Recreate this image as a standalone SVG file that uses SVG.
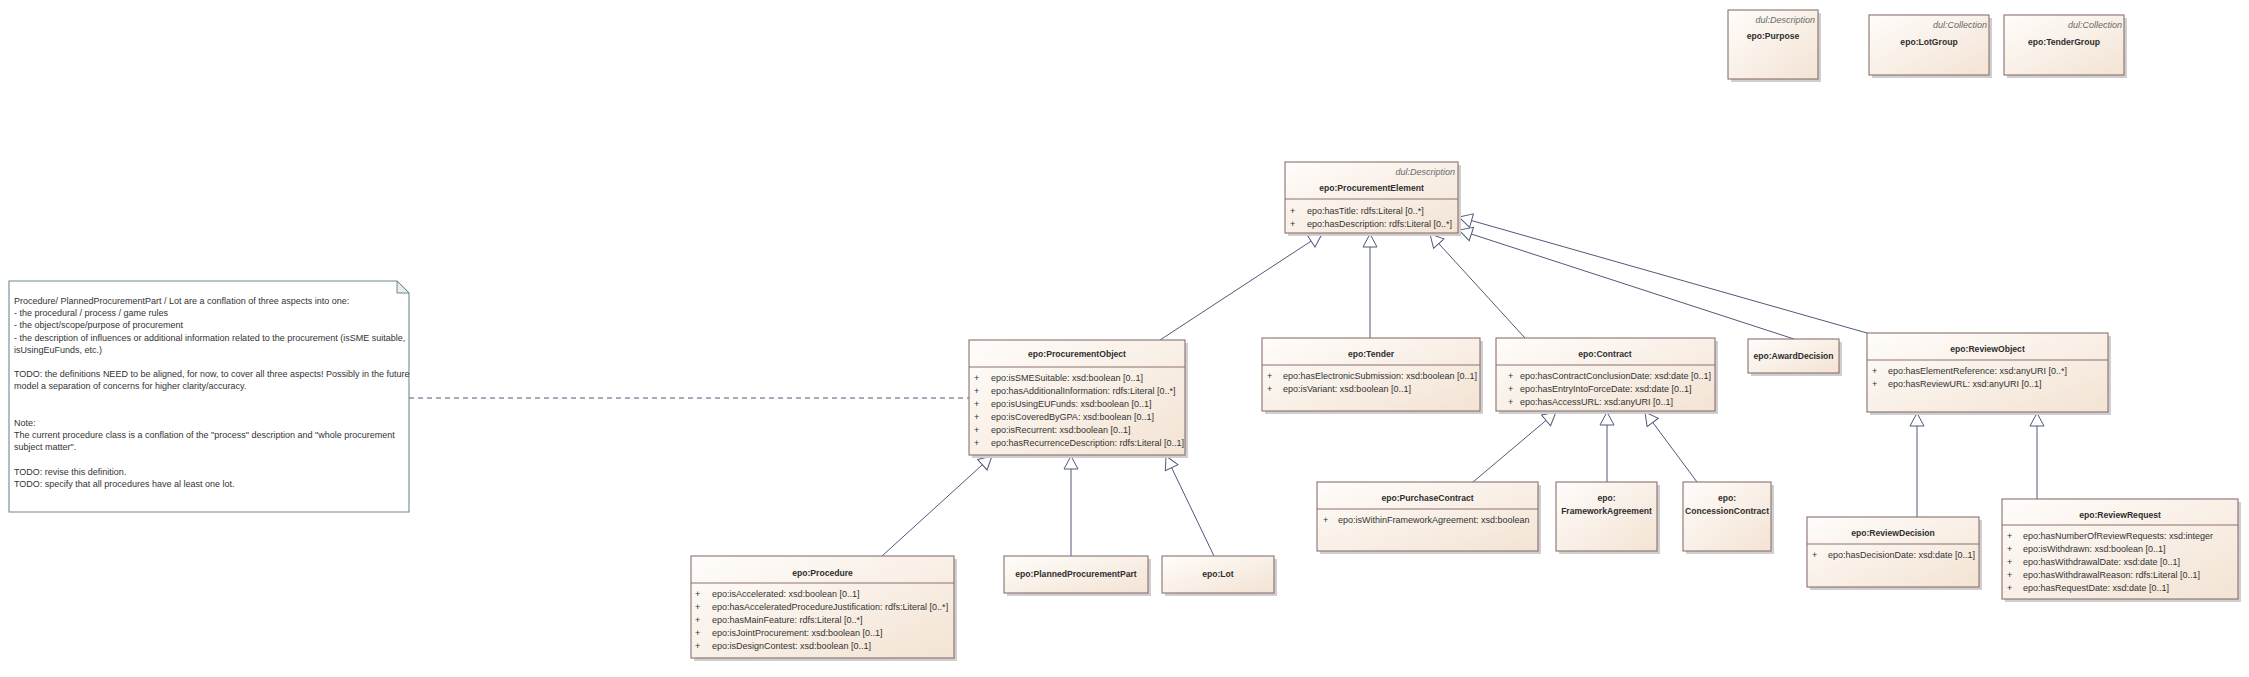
<svg xmlns="http://www.w3.org/2000/svg" width="2249" height="677" viewBox="0 0 2249 677">
<style>
.box{fill:url(#bg);stroke:#8c7070;stroke-width:1.1}
.sh{fill:#cfcfcf}
.sep{stroke:#8c7070;stroke-width:1}
.nm{font-family:"Liberation Sans",Arial,sans-serif;font-weight:bold;font-size:8.6px;fill:#2e2e2e;text-anchor:middle}
.st{font-family:"Liberation Sans",Arial,sans-serif;font-style:italic;font-size:9px;fill:#6a6a6a;text-anchor:end}
.at{font-family:"Liberation Sans",Arial,sans-serif;font-size:9px;fill:#333}
.nt{font-family:"Liberation Sans",Arial,sans-serif;font-size:9px;fill:#333}
.cn{fill:none;stroke:#4f5a7a;stroke-width:1}
.dash{fill:none;stroke:#4f5a7a;stroke-width:1;stroke-dasharray:5,4}
</style>
<defs>
<linearGradient id="bg" x1="0" y1="0" x2="1" y2="1">
<stop offset="0" stop-color="#fffdfb"/>
<stop offset="1" stop-color="#f3e3d3"/>
</linearGradient>
<marker id="gen" markerUnits="userSpaceOnUse" markerWidth="16" markerHeight="16" viewBox="0 0 16 16" refX="15" refY="8" orient="auto">
<path d="M2,1 L15,8 L2,15 Z" fill="#fff" stroke="#4f5a7a" stroke-width="1"/>
</marker>
</defs>
<rect width="2249" height="677" fill="#fff"/>

<g id="connectors">
<line class="dash" x1="409" y1="398" x2="969" y2="398"/>
<line class="cn" x1="1160" y1="340" x2="1322" y2="234" marker-end="url(#gen)"/>
<line class="cn" x1="1370" y1="338" x2="1370" y2="234" marker-end="url(#gen)"/>
<line class="cn" x1="1525" y1="338" x2="1430" y2="234" marker-end="url(#gen)"/>
<line class="cn" x1="1794" y1="339" x2="1459" y2="230" marker-end="url(#gen)"/>
<line class="cn" x1="1867" y1="333" x2="1459" y2="217" marker-end="url(#gen)"/>
<line class="cn" x1="882" y1="556" x2="992" y2="456" marker-end="url(#gen)"/>
<line class="cn" x1="1071" y1="556" x2="1071" y2="456" marker-end="url(#gen)"/>
<line class="cn" x1="1214" y1="556" x2="1166" y2="456" marker-end="url(#gen)"/>
<line class="cn" x1="1473" y1="482" x2="1556" y2="412" marker-end="url(#gen)"/>
<line class="cn" x1="1607" y1="482" x2="1607" y2="412" marker-end="url(#gen)"/>
<line class="cn" x1="1697" y1="482" x2="1645" y2="412" marker-end="url(#gen)"/>
<line class="cn" x1="1917" y1="517" x2="1917" y2="413" marker-end="url(#gen)"/>
<line class="cn" x1="2037" y1="499" x2="2037" y2="413" marker-end="url(#gen)"/>
</g>

<g id="note">
<path d="M9,281 H397 L409,293 V512 H9 Z" fill="#fff" stroke="#6f8a93" stroke-width="1.1"/>
<path d="M397,281 V293 H409 Z" fill="#e8eef0" stroke="#6f8a93" stroke-width="1"/>
<text class="nt" x="14" y="304">Procedure/ PlannedProcurementPart / Lot are a conflation of three aspects into one:</text>
<text class="nt" x="14" y="316.2">- the procedural / process / game rules</text>
<text class="nt" x="14" y="328.4">- the object/scope/purpose of procurement</text>
<text class="nt" x="14" y="340.6">- the description of influences or additional information related to the procurement (isSME suitable,</text>
<text class="nt" x="14" y="352.8">isUsingEuFunds, etc.)</text>
<text class="nt" x="14" y="377.2">TODO: the definitions NEED to be aligned, for now, to cover all three aspects! Possibly in the future</text>
<text class="nt" x="14" y="389.4">model a separation of concerns for higher clarity/accuracy.</text>
<text class="nt" x="14" y="426">Note:</text>
<text class="nt" x="14" y="438.2">The current procedure class is a conflation of the "process" description and "whole procurement</text>
<text class="nt" x="14" y="450.4">subject matter".</text>
<text class="nt" x="14" y="474.8">TODO: revise this definition.</text>
<text class="nt" x="14" y="487">TODO: specify that all procedures have al least one lot.</text>
</g>

<g id="purpose">
<rect class="sh" x="1731" y="13" width="90" height="69"/>
<rect class="box" x="1728" y="10" width="90" height="69"/>
<text class="st" x="1815" y="23">dul:Description</text>
<text class="nm" x="1773" y="39">epo:Purpose</text>
</g>
<g id="lotgroup">
<rect class="sh" x="1872" y="18" width="120" height="60"/>
<rect class="box" x="1869" y="15" width="120" height="60"/>
<text class="st" x="1987" y="28">dul:Collection</text>
<text class="nm" x="1929" y="45">epo:LotGroup</text>
</g>
<g id="tendergroup">
<rect class="sh" x="2007" y="18" width="120" height="60"/>
<rect class="box" x="2004" y="15" width="120" height="60"/>
<text class="st" x="2122" y="28">dul:Collection</text>
<text class="nm" x="2064" y="45">epo:TenderGroup</text>
</g>

<g id="procurementElement">
<rect class="sh" x="1288" y="165" width="173" height="71"/>
<rect class="box" x="1285" y="162" width="173" height="71"/>
<text class="st" x="1455" y="175">dul:Description</text>
<text class="nm" x="1371.5" y="191">epo:ProcurementElement</text>
<line class="sep" x1="1285" y1="199" x2="1458" y2="199"/>
<text class="at" x="1290" y="214">+</text><text class="at" x="1307" y="214">epo:hasTitle: rdfs:Literal [0..*]</text>
<text class="at" x="1290" y="227">+</text><text class="at" x="1307" y="227">epo:hasDescription: rdfs:Literal [0..*]</text>
</g>

<g id="procurementObject">
<rect class="sh" x="972" y="343" width="216" height="115"/>
<rect class="box" x="969" y="340" width="216" height="115"/>
<text class="nm" x="1077" y="357">epo:ProcurementObject</text>
<line class="sep" x1="969" y1="367" x2="1185" y2="367"/>
<text class="at" x="974" y="381">+</text><text class="at" x="991" y="381">epo:isSMESuitable: xsd:boolean [0..1]</text>
<text class="at" x="974" y="394">+</text><text class="at" x="991" y="394">epo:hasAdditionalInformation: rdfs:Literal [0..*]</text>
<text class="at" x="974" y="407">+</text><text class="at" x="991" y="407">epo:isUsingEUFunds: xsd:boolean [0..1]</text>
<text class="at" x="974" y="420">+</text><text class="at" x="991" y="420">epo:isCoveredByGPA: xsd:boolean [0..1]</text>
<text class="at" x="974" y="433">+</text><text class="at" x="991" y="433">epo:isRecurrent: xsd:boolean [0..1]</text>
<text class="at" x="974" y="446">+</text><text class="at" x="991" y="446">epo:hasRecurrenceDescription: rdfs:Literal [0..1]</text>
</g>

<g id="tender">
<rect class="sh" x="1265" y="341" width="218" height="73"/>
<rect class="box" x="1262" y="338" width="218" height="73"/>
<text class="nm" x="1371" y="357">epo:Tender</text>
<line class="sep" x1="1262" y1="365" x2="1480" y2="365"/>
<text class="at" x="1267" y="379">+</text><text class="at" x="1283" y="379">epo:hasElectronicSubmission: xsd:boolean [0..1]</text>
<text class="at" x="1267" y="392">+</text><text class="at" x="1283" y="392">epo:isVariant: xsd:boolean [0..1]</text>
</g>

<g id="contract">
<rect class="sh" x="1499" y="341" width="219" height="73"/>
<rect class="box" x="1496" y="338" width="219" height="73"/>
<text class="nm" x="1605" y="357">epo:Contract</text>
<line class="sep" x1="1496" y1="365" x2="1715" y2="365"/>
<text class="at" x="1508" y="379">+</text><text class="at" x="1520" y="379">epo:hasContractConclusionDate: xsd:date [0..1]</text>
<text class="at" x="1508" y="392">+</text><text class="at" x="1520" y="392">epo:hasEntryIntoForceDate: xsd:date [0..1]</text>
<text class="at" x="1508" y="405">+</text><text class="at" x="1520" y="405">epo:hasAccessURL: xsd:anyURI [0..1]</text>
</g>

<g id="awardDecision">
<rect class="sh" x="1751" y="342" width="91" height="34"/>
<rect class="box" x="1748" y="339" width="91" height="34"/>
<text class="nm" x="1793.5" y="359">epo:AwardDecision</text>
</g>

<g id="reviewObject">
<rect class="sh" x="1870" y="336" width="241" height="79"/>
<rect class="box" x="1867" y="333" width="241" height="79"/>
<text class="nm" x="1987.5" y="352">epo:ReviewObject</text>
<line class="sep" x1="1867" y1="360" x2="2108" y2="360"/>
<text class="at" x="1872" y="374">+</text><text class="at" x="1888" y="374">epo:hasElementReference: xsd:anyURI [0..*]</text>
<text class="at" x="1872" y="387">+</text><text class="at" x="1888" y="387">epo:hasReviewURL: xsd:anyURI [0..1]</text>
</g>

<g id="procedure">
<rect class="sh" x="694" y="559" width="263" height="102"/>
<rect class="box" x="691" y="556" width="263" height="102"/>
<text class="nm" x="822.5" y="576">epo:Procedure</text>
<line class="sep" x1="691" y1="583" x2="954" y2="583"/>
<text class="at" x="695" y="597">+</text><text class="at" x="712" y="597">epo:isAccelerated: xsd:boolean [0..1]</text>
<text class="at" x="695" y="610">+</text><text class="at" x="712" y="610">epo:hasAcceleratedProcedureJustification: rdfs:Literal [0..*]</text>
<text class="at" x="695" y="623">+</text><text class="at" x="712" y="623">epo:hasMainFeature: rdfs:Literal [0..*]</text>
<text class="at" x="695" y="636">+</text><text class="at" x="712" y="636">epo:isJointProcurement: xsd:boolean [0..1]</text>
<text class="at" x="695" y="649">+</text><text class="at" x="712" y="649">epo:isDesignContest: xsd:boolean [0..1]</text>
</g>

<g id="plannedProcurementPart">
<rect class="sh" x="1007" y="559" width="144" height="37"/>
<rect class="box" x="1004" y="556" width="144" height="37"/>
<text class="nm" x="1076" y="577">epo:PlannedProcurementPart</text>
</g>

<g id="lot">
<rect class="sh" x="1165" y="559" width="112" height="37"/>
<rect class="box" x="1162" y="556" width="112" height="37"/>
<text class="nm" x="1218" y="577">epo:Lot</text>
</g>

<g id="purchaseContract">
<rect class="sh" x="1320" y="485" width="221" height="69"/>
<rect class="box" x="1317" y="482" width="221" height="69"/>
<text class="nm" x="1427.5" y="501">epo:PurchaseContract</text>
<line class="sep" x1="1317" y1="509" x2="1538" y2="509"/>
<text class="at" x="1323" y="523">+</text><text class="at" x="1338" y="523">epo:isWithinFrameworkAgreement: xsd:boolean</text>
</g>

<g id="frameworkAgreement">
<rect class="sh" x="1559" y="485" width="101" height="69"/>
<rect class="box" x="1556" y="482" width="101" height="69"/>
<text class="nm" x="1606.5" y="501">epo:</text>
<text class="nm" x="1606.5" y="514">FrameworkAgreement</text>
</g>

<g id="concessionContract">
<rect class="sh" x="1686" y="485" width="88" height="69"/>
<rect class="box" x="1683" y="482" width="88" height="69"/>
<text class="nm" x="1727" y="501">epo:</text>
<text class="nm" x="1727" y="514">ConcessionContract</text>
</g>

<g id="reviewDecision">
<rect class="sh" x="1810" y="520" width="172" height="70"/>
<rect class="box" x="1807" y="517" width="172" height="70"/>
<text class="nm" x="1893" y="536">epo:ReviewDecision</text>
<line class="sep" x1="1807" y1="544" x2="1979" y2="544"/>
<text class="at" x="1812" y="558">+</text><text class="at" x="1828" y="558">epo:hasDecisionDate: xsd:date [0..1]</text>
</g>

<g id="reviewRequest">
<rect class="sh" x="2005" y="502" width="236" height="100"/>
<rect class="box" x="2002" y="499" width="236" height="100"/>
<text class="nm" x="2120" y="518">epo:ReviewRequest</text>
<line class="sep" x1="2002" y1="525" x2="2238" y2="525"/>
<text class="at" x="2007" y="539">+</text><text class="at" x="2023" y="539">epo:hasNumberOfReviewRequests: xsd:integer</text>
<text class="at" x="2007" y="552">+</text><text class="at" x="2023" y="552">epo:isWithdrawn: xsd:boolean [0..1]</text>
<text class="at" x="2007" y="565">+</text><text class="at" x="2023" y="565">epo:hasWithdrawalDate: xsd:date [0..1]</text>
<text class="at" x="2007" y="578">+</text><text class="at" x="2023" y="578">epo:hasWithdrawalReason: rdfs:Literal [0..1]</text>
<text class="at" x="2007" y="591">+</text><text class="at" x="2023" y="591">epo:hasRequestDate: xsd:date [0..1]</text>
</g>
</svg>
